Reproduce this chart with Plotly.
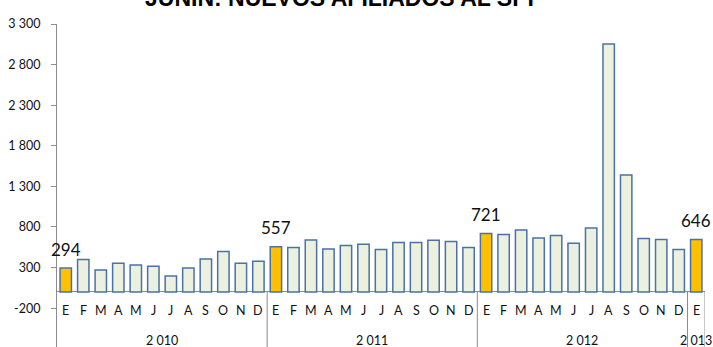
import plotly.graph_objects as go

# Monthly new affiliates, Jan 2010 - Jan 2013
months = ["E", "F", "M", "A", "M", "J", "J", "A", "S", "O", "N", "D"] * 3 + ["E"]
years = ["2 010", "2 011", "2 012", "2 013"]
year_sizes = [12, 12, 12, 1]
afiliados = [
    294, 399, 271, 353, 332, 316, 197, 296, 406, 497, 353, 378,
    557, 547, 640, 530, 571, 587, 522, 608, 608, 637, 620, 547,
    721, 707, 764, 665, 694, 600, 788, 3054, 1441, 658, 645, 522,
    646,
]
y_ticks = [-200, 300, 800, 1300, 1800, 2300, 2800, 3300]

GOLD = "#FFC000"
PALE = "#EBF1DE"
EDGE = "#4A72A8"
AXIS = "#8C8C8C"
FONT = "Lato"

x = list(range(len(afiliados)))
# January bars are highlighted
is_jan = [i == 0 or (i % 12 == 0) for i in x]
colors = [GOLD if j else PALE for j in is_jan]

fig = go.Figure()
fig.add_trace(go.Bar(
    x=x, y=afiliados,
    marker=dict(color=colors, line=dict(color=EDGE, width=1.5)),
    hoverinfo="skip",
))

annotations = []
# value labels on the January bars
for i, v in enumerate(afiliados):
    if is_jan[i]:
        annotations.append(dict(
            x=i, y=v, xref="x", yref="y", text=f"{v}", showarrow=False,
            yanchor="middle", yshift=19,
            font=dict(family=FONT, size=17, color="#111111"),
        ))

# month labels under the zero line
for i, m in enumerate(months):
    annotations.append(dict(
        x=i, y=-234, xref="x", yref="y", text=m, showarrow=False,
        font=dict(family=FONT, size=12.5, color="#111111"),
    ))

# year group labels and dividers
shapes = []
start = 0
for yr, n in zip(years, year_sizes):
    center = start + (n - 1) / 2
    annotations.append(dict(
        x=center, y=-603, xref="x", yref="y", text=yr, showarrow=False,
        font=dict(family=FONT, size=12.5, color="#111111"),
    ))
    start += n
    shapes.append(dict(
        type="line", xref="x", yref="y",
        x0=start - 0.5, x1=start - 0.5, y0=0, y1=-700,
        line=dict(color=AXIS, width=1),
    ))

annotations.append(dict(
    x=0.443, y=1.083, xref="paper", yref="paper",
    text="<b>JUNÍN: NUEVOS AFILIADOS AL SPP</b>", showarrow=False,
    xanchor="center", yanchor="middle",
    font=dict(family="Liberation Sans", size=23, color="#000000"),
))

fig.update_layout(
    width=713, height=347,
    margin=dict(l=57, r=8, t=24, b=0),
    paper_bgcolor="white", plot_bgcolor="white",
    showlegend=False,
    bargap=0.35,
    annotations=annotations,
    shapes=shapes,
    xaxis=dict(
        range=[-0.5, len(afiliados) - 0.5],
        showgrid=False, zeroline=False, showline=False,
        showticklabels=False, ticks="",
    ),
    yaxis=dict(
        range=[-678, 3300],
        tickvals=y_ticks,
        ticktext=[f"{v:,}".replace(",", " ") for v in y_ticks],
        showgrid=False,
        zeroline=True, zerolinecolor=AXIS, zerolinewidth=1,
        showline=True, linecolor=AXIS, linewidth=1,
        ticks="outside", ticklen=5, tickcolor=AXIS,
        ticklabelstandoff=8,
        tickfont=dict(family=FONT, size=12.5, color="#111111"),
    ),
)

fig.write_html("out.html")
